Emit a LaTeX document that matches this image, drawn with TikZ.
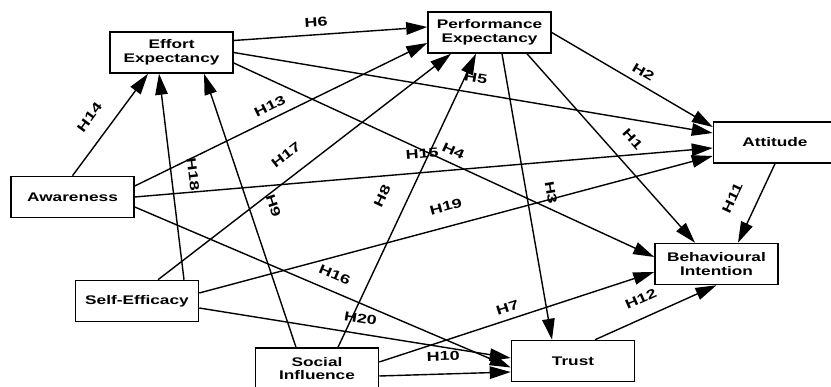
\documentclass[tikz,border=0pt]{standalone}
\usepackage{fontspec}
\setmainfont{Liberation Sans}[FakeStretch=1.38]
\usetikzlibrary{arrows.meta}

\begin{document}
\begin{tikzpicture}[
  x=1pt, y=-1pt,
  cons/.style={draw, line width=1.5pt, fill=white, minimum width=123pt,
               minimum height=41pt, inner sep=0pt, align=center,
               font=\fontsize{12.5}{13.5}\selectfont\bfseries},
  arr/.style={-{Triangle[length=21pt,width=12.5pt]}, line width=1.4pt},
  hyp/.style={font=\fontsize{13}{13}\selectfont\bfseries, inner sep=1pt,
              sloped, above=6pt}
]
\useasboundingbox (0,0) rectangle (831,387);
\node[cons] (ee) at (171.5,52.5) {Effort\\Expectancy};
\node[cons] (pe) at (489.5,32.5) {Performance\\Expectancy};
\node[cons] (at) at (775,142.5) {Attitude};
\node[cons] (aw) at (72.5,197) {Awareness};
\node[cons] (se) at (137,301) {Self-Efficacy};
\node[cons] (si) at (317,368.5) {Social\\Influence};
\node[cons] (bi) at (716.5,264) {Behavioural\\Intention};
\node[cons] (tr) at (573,361) {Trust};
\draw[arr] (aw.north) -- node[hyp, pos=.45, above=9pt] {H14} ([xshift=-23.5pt]ee.south);
\draw[arr] ([xshift=47pt]se.north) -- node[hyp, pos=.5, above=9.5pt] {H18} ([xshift=-12.5pt]ee.south);
\draw[arr] ([xshift=-21pt]si.north) -- node[hyp, pos=.49, above=11.5pt] {H9} ([xshift=32.5pt]ee.south);
\draw[arr] ([yshift=12pt]ee.east) -- node[hyp, pos=.43] {H6} ([yshift=5.5pt]pe.west);
\draw[arr] ([yshift=11pt]aw.east) -- node[hyp, pos=.48] {H13} ([yshift=-10.5pt]pe.west);
\draw[arr] ([xshift=21pt]se.north) -- node[hyp, pos=.48, above=8.5pt] {H17} ([xshift=-38.5pt]pe.south);
\draw[arr] ([xshift=21pt]si.north) -- node[hyp, pos=.48, above=12pt] {H8} ([xshift=-13.5pt]pe.south);
\draw[arr] (ee.east) -- node[hyp, pos=.5, above=3pt] {H5} ([yshift=9.5pt]at.west);
\draw[arr] ([yshift=-10.5pt]ee.east) -- node[hyp, pos=.51] {H4} ([yshift=7pt]bi.west);
\draw[arr] (aw.east) -- node[hyp, pos=.5, above=7pt] {H15} ([yshift=-5.5pt]at.west);
\draw[arr] ([yshift=8pt]se.east) -- node[hyp, pos=.49, above=7.5pt] {H19} ([yshift=-13.5pt]at.west);
\draw[arr] (pe.east) -- node[hyp, pos=.53] {H2} ([yshift=15.5pt]at.west);
\draw[arr] ([xshift=37.5pt]pe.south) -- node[hyp, pos=.53, above=10pt] {H1} ([xshift=-21.5pt]bi.north);
\draw[arr] ([xshift=12.5pt]pe.south) -- node[hyp, pos=.5, above=12pt] {H3} ([xshift=-21pt]tr.north);
\draw[arr] (at.south) -- node[hyp, pos=.56, above=12pt] {H11} ([xshift=21.5pt]bi.north);
\draw[arr] ([yshift=-10pt]aw.east) -- node[hyp, pos=.515, above=4pt] {H16} ([yshift=-6.5pt]tr.west);
\draw[arr] ([yshift=-7pt]se.east) -- node[hyp, pos=.51, above=3pt] {H20} ([yshift=3pt]tr.west);
\draw[arr] ([yshift=6.5pt]si.east) -- node[hyp, pos=.48] {H7} ([yshift=-8pt]bi.west);
\draw[arr] ([yshift=-7.5pt]si.east) -- node[hyp, pos=.49, above=5.5pt] {H10} ([yshift=-11pt]tr.west);
\draw[arr] ([xshift=22pt]tr.north) -- node[hyp, pos=.44, above=6.5pt] {H12} (bi.south);
\end{tikzpicture}
\end{document}
